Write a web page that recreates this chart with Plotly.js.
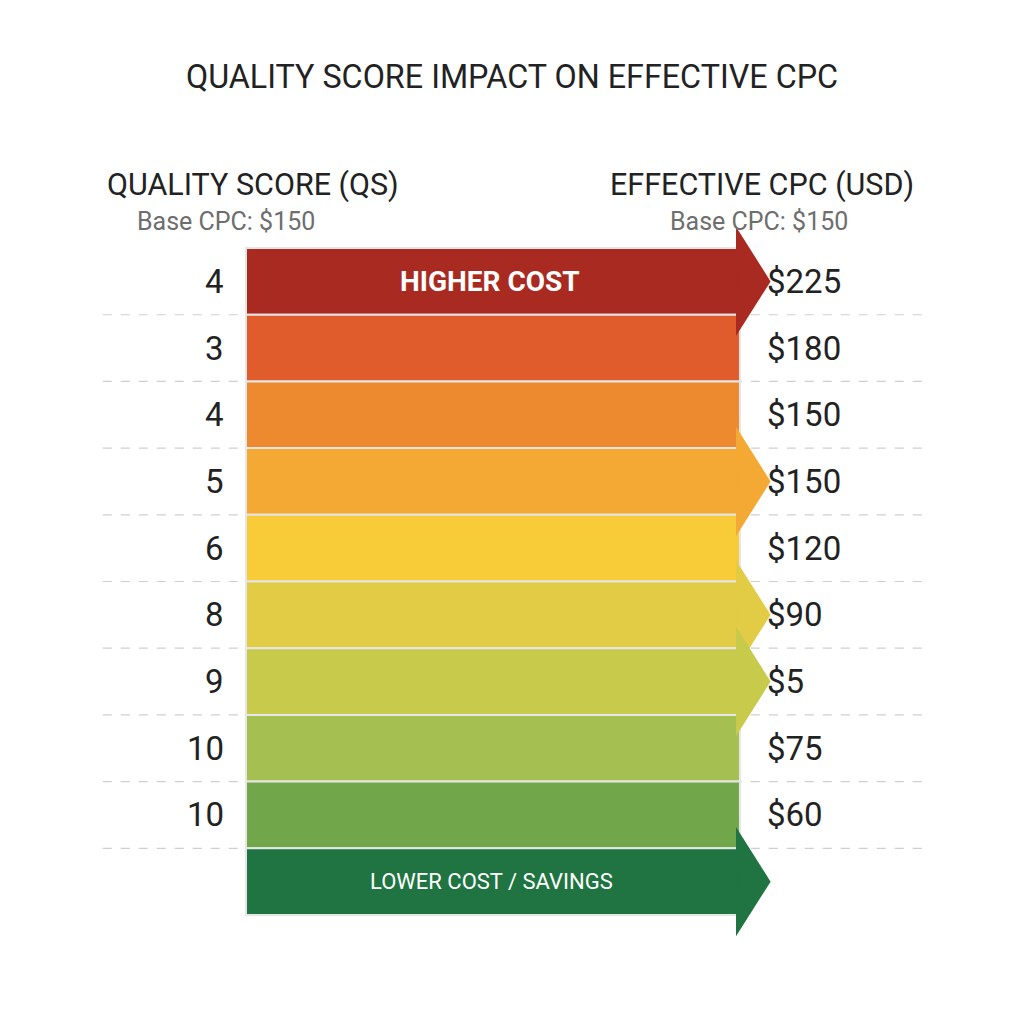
<!DOCTYPE html>
<html>
<head>
<meta charset="utf-8">
<script src="https://cdn.plot.ly/plotly-3.0.1.min.js"></script>
<style>html,body{margin:0;padding:0;background:#ffffff;}#chart{width:1024px;height:1024px;}</style>
</head>
<body>
<div id="chart"></div>
<script>
// ---- data ----
const chartTitle = "QUALITY SCORE IMPACT ON EFFECTIVE CPC";
const leftHeader = "QUALITY SCORE (QS)";
const rightHeader = "EFFECTIVE CPC (USD)";
const baseNote = "Base CPC: $150";
const qsScores = [4, 3, 4, 5, 6, 8, 9, 10, 10];
const cpcLabels = ["$225", "$180", "$150", "$150", "$120", "$90", "$5", "$75", "$60"];
const topBandLabel = "HIGHER COST";
const bottomBandLabel = "LOWER COST / SAVINGS";
const bandColors = ["#A92A21", "#E05C2C", "#ED8A30", "#F3A933", "#F8CB39", "#E2CB45", "#C8CA4B", "#A5BF51", "#71A64A", "#1F7441"];
const arrowRows = [0, 3, 5, 6, 9];

// ---- build ----
const nRows = bandColors.length;
const rows = bandColors.map((_, i) => i);
const traces = [];

// bands
traces.push({
  type: "bar", orientation: "h",
  y: rows, x: rows.map(() => 1), base: 0, width: 1,
  marker: { color: bandColors, line: { color: "#e6e6e6", width: 2 } },
  hoverinfo: "skip", showlegend: false
});

// arrow heads
arrowRows.forEach(r => {
  traces.push({
    type: "scatter", mode: "lines", fill: "toself",
    x: [0.992, 1.062, 0.992, 0.992], y: [r - 0.82, r, r + 0.82, r - 0.82],
    fillcolor: bandColors[r], line: { width: 0, color: bandColors[r] },
    hoverinfo: "skip", showlegend: false
  });
});

const shapes = [];
for (let k = 0; k < nRows - 1; k++) {
  shapes.push({
    type: "line", layer: "below", xref: "x", yref: "y",
    x0: -0.29, x1: 1.37, y0: k + 0.5, y1: k + 0.5,
    line: { color: "#cfcfcf", width: 1.2, dash: "dash" }
  });
}

const ann = [];
const numFont = { family: "Roboto, 'Noto Sans', sans-serif", size: 33, color: "#222222" };
qsScores.forEach((q, i) => {
  ann.push({ x: -0.04, y: i, xref: "x", yref: "y", text: String(q), showarrow: false,
    xanchor: "right", yanchor: "middle", font: numFont });
});
cpcLabels.forEach((c, i) => {
  ann.push({ x: 1.05, y: i, xref: "x", yref: "y", text: c, showarrow: false,
    xanchor: "left", yanchor: "middle", font: numFont });
});
ann.push({ x: 0.494, y: 0, xref: "x", yref: "y", text: topBandLabel, showarrow: false,
  xanchor: "center", yanchor: "middle",
  font: { family: "Roboto, sans-serif", size: 28, color: "#ffffff", weight: 700 } });
ann.push({ x: 0.498, y: nRows - 1, xref: "x", yref: "y", text: bottomBandLabel, showarrow: false,
  xanchor: "center", yanchor: "middle",
  font: { family: "Roboto, sans-serif", size: 22, color: "#ffffff" } });

const headFont = { family: "Roboto, sans-serif", size: 30.5, color: "#222222" };
const subFont = { family: "Roboto, sans-serif", size: 25, color: "#6e6e6e" };
ann.push({ x: -0.285, y: -1.45, xref: "x", yref: "y", text: leftHeader, showarrow: false,
  xanchor: "left", yanchor: "middle", font: headFont });
ann.push({ x: -0.224, y: -0.9, xref: "x", yref: "y", text: baseNote, showarrow: false,
  xanchor: "left", yanchor: "middle", font: subFont });
ann.push({ x: 0.733, y: -1.45, xref: "x", yref: "y", text: rightHeader, showarrow: false,
  xanchor: "left", yanchor: "middle", font: headFont });
ann.push({ x: 0.855, y: -0.9, xref: "x", yref: "y", text: baseNote, showarrow: false,
  xanchor: "left", yanchor: "middle", font: subFont });

const layout = {
  width: 1024, height: 1024,
  paper_bgcolor: "#ffffff", plot_bgcolor: "rgba(0,0,0,0)",
  margin: { l: 0, r: 0, t: 148, b: 49, autoexpand: false },
  title: { text: chartTitle, x: 0.5, xanchor: "center", y: 0.925, yanchor: "middle",
    font: { family: "Roboto, sans-serif", size: 32.3, color: "#222222" } },
  xaxis: { range: [-0.498, 1.575], visible: false, fixedrange: true },
  yaxis: { range: [10.4, -2.0], visible: false, fixedrange: true },
  shapes: shapes, annotations: ann, showlegend: false, bargap: 0
};

Plotly.newPlot("chart", traces, layout, { staticPlot: true, displayModeBar: false });
</script>
</body>
</html>
